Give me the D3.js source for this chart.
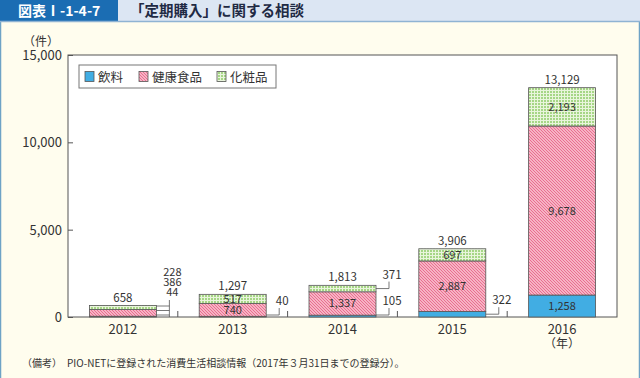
<!DOCTYPE html>
<html>
<head>
<meta charset="utf-8">
<script src="https://cdn.jsdelivr.net/npm/d3@7"></script>
<style>
  html, body { margin: 0; padding: 0; background: #fffdee; }
  svg { display: block; font-family: "Noto Sans CJK JP", "Noto Sans", sans-serif; }
</style>
</head>
<body>
<div id="chart"></div>
<script>
// data
const YEARS = ['2012', '2013', '2014', '2015', '2016'];
const SERIES = ['飲料', '健康食品', '化粧品'];
const beverage = [44, 40, 105, 322, 1258];
const health = [386, 740, 1337, 2887, 9678];
const cosmetics = [228, 517, 371, 697, 2193];
const totals = [658, 1297, 1813, 3906, 13129];
const Y_TICKS = [0, 5000, 10000, 15000];

// which segment labels sit outside the bar (leader line), per year
const outside = [
  [true, true, true],
  [true, false, false],
  [true, false, true],
  [true, false, false],
  [false, false, false]
];

const W = 640, H = 378;
const M = { top: 55, right: 23, bottom: 61, left: 68 };

const svg = d3.select('#chart').append('svg').attr('width', W).attr('height', H);
const defs = svg.append('defs');

// hatching for health foods
const ph = defs.append('pattern').attr('id', 'hatch').attr('patternUnits', 'userSpaceOnUse')
  .attr('width', 3).attr('height', 3);
ph.append('rect').attr('width', 3).attr('height', 3).attr('fill', '#f6b3c4');
ph.append('path').attr('d', 'M-1,-1 L4,4 M-1,2 L1,4 M2,-1 L4,1')
  .attr('stroke', '#e8668a').attr('stroke-width', 0.9);

// grid for cosmetics
const pg = defs.append('pattern').attr('id', 'grid').attr('patternUnits', 'userSpaceOnUse')
  .attr('width', 3).attr('height', 3);
pg.append('rect').attr('width', 3).attr('height', 3).attr('fill', '#a6d686');
pg.append('path').attr('d', 'M0,0.5 H3 M0.5,0 V3').attr('stroke', '#e9f5dc').attr('stroke-width', 1);

const fills = ['#41ade3', 'url(#hatch)', 'url(#grid)'];

// frame
svg.append('rect').attr('x', 0).attr('y', 0).attr('width', W).attr('height', H).attr('fill', '#fffdee');
svg.append('rect').attr('x', 0.5).attr('y', 21).attr('width', W - 1).attr('height', H - 20)
  .attr('fill', 'none').attr('stroke', '#6ea3c6').attr('stroke-width', 1.5);

// header
svg.append('rect').attr('x', 0).attr('y', 0).attr('width', W).attr('height', 21).attr('fill', '#dce6f3');
svg.append('rect').attr('x', 0).attr('y', 0).attr('width', 118).attr('height', 21).attr('fill', '#1b6db3');
svg.append('line').attr('x1', 0).attr('x2', W).attr('y1', 21.5).attr('y2', 21.5)
  .attr('stroke', '#8fb3d3').attr('stroke-width', 1.5);
svg.append('text').attr('x', 18).attr('y', 16).attr('fill', '#fff')
  .style('font-size', '14px').style('font-weight', '700').text('図表Ⅰ-1-4-7');
svg.append('text').attr('x', 130).attr('y', 16).attr('fill', '#1f2a44')
  .style('font-size', '14.5px').style('font-weight', '700').text('「定期購入」に関する相談');

const x = d3.scaleBand().domain(YEARS).range([M.left, W - M.right]).paddingInner(0.39).paddingOuter(0.195);
const y = d3.scaleLinear().domain([0, 15000]).range([H - M.bottom, M.top]);

const rows = YEARS.map((yr, i) => ({ year: yr, '飲料': beverage[i], '健康食品': health[i], '化粧品': cosmetics[i] }));
const series = d3.stack().keys(SERIES)(rows);

// plot box
svg.append('rect').attr('x', M.left).attr('y', M.top)
  .attr('width', W - M.left - M.right).attr('height', H - M.top - M.bottom)
  .attr('fill', '#fff').attr('stroke', '#555').attr('stroke-width', 1);

// y axis
svg.append('g')
  .attr('transform', `translate(${M.left},0)`)
  .call(d3.axisRight(y).tickValues(Y_TICKS).tickSize(5).tickFormat(''))
  .call(g => g.select('.domain').remove())
  .call(g => g.selectAll('.tick line').attr('stroke', '#555'));
svg.append('g').selectAll('text').data(Y_TICKS).join('text')
  .attr('x', M.left - 6).attr('y', d => y(d) + 5)
  .attr('text-anchor', 'end').attr('fill', '#333').style('font-size', '13px')
  .text(d => d3.format(',')(d));
svg.append('text').attr('x', 41).attr('y', 46).attr('text-anchor', 'middle')
  .attr('fill', '#333').style('font-size', '12px').text('（件）');

// category boundary ticks
const step = x.step();
svg.append('g').selectAll('line').data(YEARS.slice(1)).join('line')
  .attr('x1', d => x(d) - x.paddingInner() * step / 2)
  .attr('x2', d => x(d) - x.paddingInner() * step / 2)
  .attr('y1', y(0)).attr('y2', y(0) - 6)
  .attr('stroke', '#555');

// bars
const bars = svg.append('g');
series.forEach((s, k) => {
  bars.selectAll(null).data(s).join('rect')
    .attr('x', d => x(d.data.year))
    .attr('width', x.bandwidth())
    .attr('y', d => y(d[1]))
    .attr('height', d => y(d[0]) - y(d[1]))
    .attr('fill', fills[k])
    .attr('stroke', '#555').attr('stroke-width', 0.8);
});

// x labels
svg.append('g').selectAll('text').data(YEARS).join('text')
  .attr('x', d => x(d) + x.bandwidth() / 2).attr('y', y(0) + 17)
  .attr('text-anchor', 'middle').attr('fill', '#333').style('font-size', '13px').text(d => d);
svg.append('text').attr('x', x('2016') + x.bandwidth() / 2).attr('y', y(0) + 31)
  .attr('text-anchor', 'middle').attr('fill', '#333').style('font-size', '12px').text('（年）');

// totals
svg.append('g').selectAll('text').data(totals).join('text')
  .attr('x', (d, i) => x(YEARS[i]) + x.bandwidth() / 2).attr('y', d => y(d) - 4)
  .attr('text-anchor', 'middle').attr('fill', '#333').style('font-size', '11.5px')
  .text(d => d3.format(',')(d));

// segment labels
const fmt = d3.format(',');
const labels = svg.append('g');
YEARS.forEach((yr, i) => {
  const bx = x(yr) + x.bandwidth();
  const lx = bx + 13;
  const outKs = [];
  series.forEach((s, k) => {
    const d = s[i];
    if (!outside[i][k]) {
      labels.append('text')
        .attr('x', x(yr) + x.bandwidth() / 2).attr('y', (y(d[0]) + y(d[1])) / 2 + 4)
        .attr('text-anchor', 'middle').attr('fill', '#333').style('font-size', '11px')
        .text(fmt(d[1] - d[0]));
    } else outKs.push(k);
  });
  if (!outKs.length) return;
  if (outKs.length === 3) {
    // stacked list of labels with one shared leader
    let ly = y(0) - 2;
    outKs.forEach(() => {
      labels.append('line').attr('x1', bx).attr('x2', lx).attr('y1', ly).attr('y2', ly)
        .attr('stroke', '#555').attr('stroke-width', 0.8);
      ly -= 4.5;
    });
    labels.append('line').attr('x1', lx).attr('x2', lx).attr('y1', y(0)).attr('y2', y(0) - 17)
      .attr('stroke', '#555').attr('stroke-width', 0.8);
    outKs.forEach((k, j) => {
      const d = series[k][i];
      labels.append('text').attr('x', lx + 3).attr('y', y(0) - 21 - j * 10)
        .attr('text-anchor', 'middle').attr('fill', '#333').style('font-size', '11px')
        .text(fmt(d[1] - d[0]));
    });
    return;
  }
  outKs.forEach(k => {
    const d = series[k][i];
    const my = Math.min((y(d[0]) + y(d[1])) / 2, y(0) - 2);
    labels.append('path')
      .attr('d', `M${bx},${my} H${lx} V${my - 7}`)
      .attr('fill', 'none').attr('stroke', '#555').attr('stroke-width', 0.8);
    labels.append('text').attr('x', lx + 3).attr('y', my - 10)
      .attr('text-anchor', 'middle').attr('fill', '#333').style('font-size', '11.5px')
      .text(fmt(d[1] - d[0]));
  });
});

// legend
const lg = svg.append('g').attr('transform', 'translate(79,65)');
lg.append('rect').attr('width', 197).attr('height', 23).attr('fill', '#fff')
  .attr('stroke', '#777').attr('stroke-width', 1);
const lgX = [6, 60, 138];
SERIES.forEach((name, k) => {
  lg.append('rect').attr('x', lgX[k]).attr('y', 6.5).attr('width', 9).attr('height', 10)
    .attr('fill', fills[k]).attr('stroke', '#555').attr('stroke-width', 0.8);
  lg.append('text').attr('x', lgX[k] + 13).attr('y', 16.5).attr('fill', '#333')
    .style('font-size', '12.5px').text(name);
});

// note
svg.append('text').attr('x', 22).attr('y', 367).attr('fill', '#333').style('font-size', '10px')
  .text('（備考）　PIO-NETに登録された消費生活相談情報（2017年３月31日までの登録分）。');
</script>
</body>
</html>
